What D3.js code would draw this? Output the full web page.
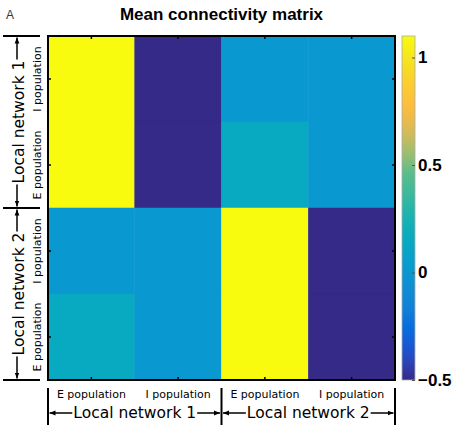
<!DOCTYPE html>
<html>
<head>
<meta charset="utf-8">
<script src="https://cdn.jsdelivr.net/npm/d3@7"></script>
<style>
body { margin: 0; background: #fff; }
svg { display: block; }
</style>
</head>
<body>
<div id="chart"></div>
<script>
'use strict';
// matrix columns (left to right) and rows (top to bottom)
var cols = ["E1", "I1", "E2", "I2"];
var rows = ["I1", "E1", "I2", "E2"];
// mean weights, one array per row
var rowI1 = [1.1, -0.5, 0, 0];
var rowE1 = [1.1, -0.5, 0.15, 0];
var rowI2 = [0, 0, 1.1, -0.5];
var rowE2 = [0.15, 0, 1.1, -0.5];
var meanW = [rowI1, rowE1, rowI2, rowE2];
var popNames = {E: "E population", I: "I population"};
var netNames = ["Local network 1", "Local network 2"];
var cbTicks = [-0.5, 0, 0.5, 1];

// parula colour map (sampled)
var parula = [
    [0.2081, 0.1663, 0.5292], [0.1707, 0.2919, 0.7792], [0.0060, 0.4086, 0.8828],
    [0.0723, 0.4887, 0.8467], [0.0641, 0.5570, 0.8240], [0.0265, 0.6137, 0.8135],
    [0.0267, 0.6642, 0.7607], [0.0843, 0.6928, 0.7062], [0.2178, 0.7250, 0.6193],
    [0.3482, 0.7424, 0.5473], [0.6473, 0.7456, 0.4188], [0.8824, 0.7274, 0.3217],
    [0.9938, 0.7455, 0.2403], [0.9880, 0.8066, 0.1794], [0.9589, 0.8949, 0.1132],
    [0.9763, 0.9831, 0.0538]
].map(function(c) { return d3.rgb(c[0] * 255, c[1] * 255, c[2] * 255).formatHex(); });

var W = 454, H = 429;
var box = {left: 48, top: 36, right: 395, bottom: 380};
var svg = d3.select("#chart").append("svg").attr("width", W).attr("height", H);
var sans = "'Liberation Sans', Arial, sans-serif";
var verd = "'DejaVu Sans', Verdana, sans-serif";

var defs = svg.append("defs");
defs.append("marker")
    .attr("id", "arr").attr("viewBox", "0 0 10 10")
    .attr("refX", 10).attr("refY", 5)
    .attr("markerWidth", 6).attr("markerHeight", 6)
    .attr("markerUnits", "userSpaceOnUse").attr("orient", "auto")
    .append("path").attr("d", "M0,1L10,5L0,9Z").attr("fill", "#000");

var x = d3.scaleBand().domain(cols).range([box.left, box.right]);
var y = d3.scaleBand().domain(rows).range([box.top, box.bottom]);
var ext = d3.extent(meanW.flat());
var color = d3.scaleSequential(d3.piecewise(d3.interpolateRgb, parula)).domain(ext);

// title
svg.append("text").attr("x", 6).attr("y", 19)
    .style("font", "12px " + sans).attr("fill", "#333").text("A");
svg.append("text").attr("x", (box.left + box.right) / 2).attr("y", 20)
    .attr("text-anchor", "middle").style("font", "bold 17px " + sans)
    .text("Mean connectivity matrix");

// cells
var cells = [];
meanW.forEach(function(r, i) {
    r.forEach(function(v, j) { cells.push({row: rows[i], col: cols[j], v: v}); });
});
svg.append("g").selectAll("rect").data(cells).join("rect")
    .attr("x", function(d) { return x(d.col); })
    .attr("y", function(d) { return y(d.row); })
    .attr("width", x.bandwidth())
    .attr("height", y.bandwidth())
    .attr("fill", function(d) { return color(d.v); })
    .attr("stroke", function(d) { return color(d.v); })
    .attr("stroke-width", 0.5);

// inward ticks on all four sides
function ticks(g) {
    g.select(".domain").remove();
    g.selectAll(".tick line").attr("stroke", "#000").attr("stroke-width", 1.5);
}
svg.append("g").attr("transform", "translate(0," + box.top + ")")
    .call(d3.axisTop(x).tickSize(-3).tickFormat("")).call(ticks);
svg.append("g").attr("transform", "translate(0," + box.bottom + ")")
    .call(d3.axisBottom(x).tickSize(-3).tickFormat("")).call(ticks);
svg.append("g").attr("transform", "translate(" + box.left + ",0)")
    .call(d3.axisLeft(y).tickSize(-3).tickFormat("")).call(ticks);
svg.append("g").attr("transform", "translate(" + box.right + ",0)")
    .call(d3.axisRight(y).tickSize(-3).tickFormat("")).call(ticks);
svg.append("rect").attr("x", box.left).attr("y", box.top)
    .attr("width", box.right - box.left).attr("height", box.bottom - box.top)
    .attr("fill", "none").attr("stroke", "#000").attr("stroke-width", 2);

// colorbar
var cb = {x: 402, w: 13};
var cy = d3.scaleLinear().domain(ext).range([box.bottom, box.top]);
var grad = defs.append("linearGradient").attr("id", "cbgrad")
    .attr("x1", 0).attr("y1", 1).attr("x2", 0).attr("y2", 0);
grad.selectAll("stop").data(d3.range(0, 1.0001, 0.05)).join("stop")
    .attr("offset", function(t) { return t; })
    .attr("stop-color", function(t) { return color(ext[0] + t * (ext[1] - ext[0])); });
svg.append("rect").attr("x", cb.x).attr("y", box.top)
    .attr("width", cb.w).attr("height", box.bottom - box.top)
    .attr("fill", "url(#cbgrad)").attr("stroke", "#aaa").attr("stroke-width", 0.8);
var cbAxis = svg.append("g").attr("transform", "translate(" + (cb.x + cb.w) + ",0)")
    .call(d3.axisRight(cy).tickValues(cbTicks).tickSize(-3).tickPadding(3)
        .tickFormat(d3.format("")));
cbAxis.select(".domain").remove();
cbAxis.selectAll(".tick line").attr("stroke", "#555");
cbAxis.selectAll(".tick text").attr("fill", "#000")
    .style("font", "bold 17px " + sans);

// left annotation
var half = (box.bottom - box.top) / 2;
var left = svg.append("g");
[box.top, box.top + half, box.bottom].forEach(function(yy) {
    left.append("line").attr("x1", 3).attr("x2", 40).attr("y1", yy).attr("y2", yy)
        .attr("stroke", "#000").attr("stroke-width", 2);
});
rows.forEach(function(r) {
    left.append("text")
        .attr("transform", "translate(41," + (y(r) + y.bandwidth() / 2) + ") rotate(-90)")
        .attr("text-anchor", "middle").style("font", "11px " + verd)
        .text(popNames[r[0]]);
});
netNames.forEach(function(n, i) {
    var y0 = box.top + i * half, y1 = y0 + half, cm = (y0 + y1) / 2;
    var t = left.append("text")
        .attr("transform", "translate(24," + cm + ") rotate(-90)")
        .attr("text-anchor", "middle").style("font", "15.5px " + verd).text(n);
    var len = t.node().getComputedTextLength();
    left.append("line").attr("x1", 17).attr("x2", 17)
        .attr("y1", cm - len / 2 - 1).attr("y2", y0 + 1.5)
        .attr("stroke", "#000").attr("stroke-width", 1.5).attr("marker-end", "url(#arr)");
    left.append("line").attr("x1", 17).attr("x2", 17)
        .attr("y1", cm + len / 2 + 1).attr("y2", y1 - 1.5)
        .attr("stroke", "#000").attr("stroke-width", 1.5).attr("marker-end", "url(#arr)");
});

// bottom annotation
var halfW = (box.right - box.left) / 2;
var bottom = svg.append("g");
[box.left, box.left + halfW, box.right].forEach(function(xx) {
    bottom.append("line").attr("x1", xx).attr("x2", xx).attr("y1", 388).attr("y2", 425)
        .attr("stroke", "#000").attr("stroke-width", 2);
});
cols.forEach(function(c) {
    bottom.append("text").attr("x", x(c) + x.bandwidth() / 2).attr("y", 398)
        .attr("text-anchor", "middle").style("font", "11px " + verd)
        .text(popNames[c[0]]);
});
netNames.forEach(function(n, i) {
    var x0 = box.left + i * halfW, x1 = x0 + halfW, cm = (x0 + x1) / 2;
    var t = bottom.append("text").attr("x", cm).attr("y", 418)
        .attr("text-anchor", "middle").style("font", "15.5px " + verd).text(n);
    var len = t.node().getComputedTextLength();
    bottom.append("line").attr("y1", 413).attr("y2", 413)
        .attr("x1", cm - len / 2 - 1).attr("x2", x0 + 1.5)
        .attr("stroke", "#000").attr("stroke-width", 1.5).attr("marker-end", "url(#arr)");
    bottom.append("line").attr("y1", 413).attr("y2", 413)
        .attr("x1", cm + len / 2 + 1).attr("x2", x1 - 1.5)
        .attr("stroke", "#000").attr("stroke-width", 1.5).attr("marker-end", "url(#arr)");
});
</script>
</body>
</html>
